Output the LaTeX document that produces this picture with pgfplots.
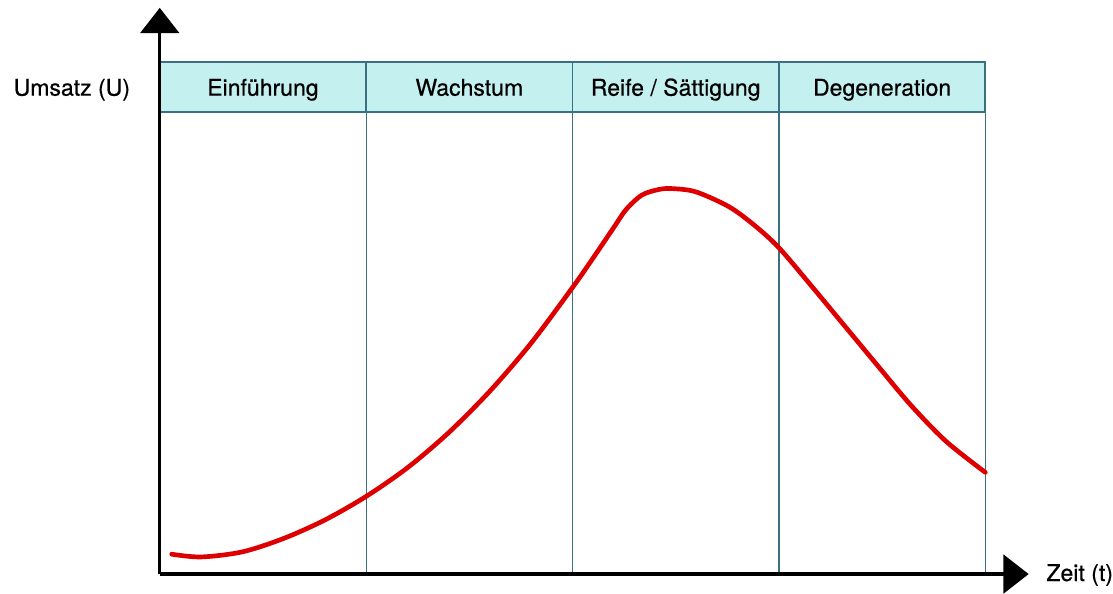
\documentclass[border=0pt]{standalone}
\usepackage{pgfplots}
\pgfplotsset{compat=1.18}
\usepackage{fontspec}
\setmainfont{TeX Gyre Heros}[FakeBold=0.6]
\usetikzlibrary{arrows.meta}

\definecolor{cellfill}{RGB}{197,240,240}
\definecolor{celldraw}{RGB}{58,112,128}
\definecolor{curvered}{RGB}{222,0,0}

\begin{document}
\begin{tikzpicture}
\fontsize{17.3}{20}\selectfont
\begin{axis}[
    x=155.06pt, y=347.25pt,
    xmin=0, xmax=4.21,
    ymin=0, ymax=1.225,
    axis lines=left,
    axis line style={line width=2.6pt, -{Triangle[length=19pt,width=29pt]}},
    xtick=\empty, ytick=\empty,
    clip=false,
    axis on top,
]
    % keep the whole canvas (1113 x 593 px at 0.75pt/px)
    \path (axis cs:-0.774,-0.039) rectangle (axis cs:4.609,1.242);

    % stage dividers
    \foreach \s in {1,2,3,4} {
        \edef\temp{\noexpand\draw[celldraw, line width=0.9pt] (axis cs:\s,0) -- (axis cs:\s,1);}
        \temp
    }

    % header band
    \draw[celldraw, line width=1.3pt, fill=cellfill] (axis cs:0,1) rectangle (axis cs:4,1.108);
    \foreach \s in {1,2,3} {
        \edef\temp{\noexpand\draw[celldraw, line width=1.3pt] (axis cs:\s,1) -- (axis cs:\s,1.108);}
        \temp
    }
    \node[anchor=base, inner sep=0pt] at (axis cs:0.5,1.035) {Einführung};
    \node[anchor=base, inner sep=0pt] at (axis cs:1.5,1.035) {Wachstum};
    \node[anchor=base, inner sep=0pt] at (axis cs:2.5,1.035) {Reife / Sättigung};
    \node[anchor=base, inner sep=0pt] at (axis cs:3.5,1.035) {Degeneration};

    \node[anchor=base, inner sep=0pt] at (axis cs:-0.4256,1.035) {Umsatz (U)};
    \node[anchor=base west, inner sep=0pt] at (axis cs:4.295,-0.015) {Zeit (t)};

    \addplot[curvered, line width=3.5pt, smooth, line cap=round] coordinates {
        (0.058,0.043) (0.2,0.037) (0.4,0.048) (0.6,0.077)
        (0.8,0.117) (1.0,0.168) (1.2,0.230) (1.4,0.306)
        (1.6,0.396) (1.8,0.500) (2.0,0.620) (2.1,0.684)
        (2.2,0.750) (2.26,0.789) (2.336,0.820) (2.418,0.832)
        (2.481,0.834) (2.597,0.827) (2.757,0.795) (2.88,0.755)
        (3.0,0.706) (3.16,0.622) (3.32,0.536) (3.48,0.450)
        (3.64,0.365) (3.81,0.287) (4.0,0.220)
    };
\end{axis}
\end{tikzpicture}
\end{document}
